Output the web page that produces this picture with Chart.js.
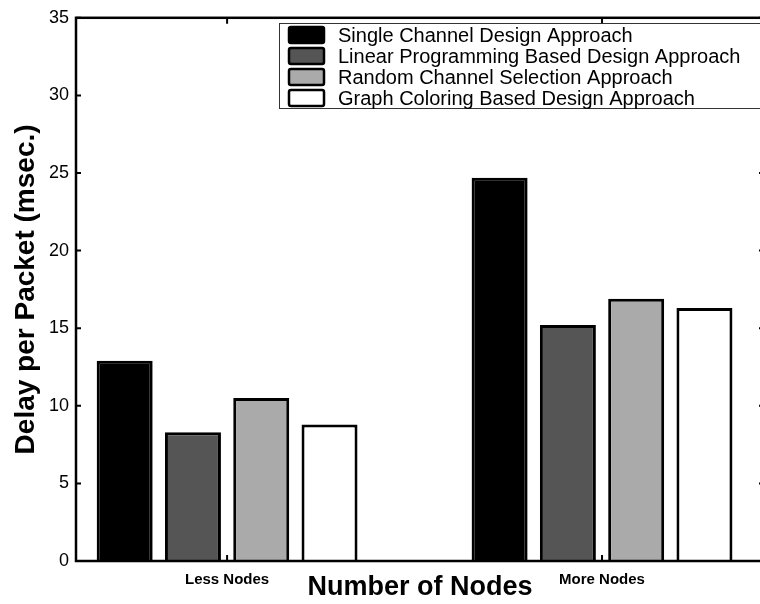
<!DOCTYPE html>
<html>
<head>
<meta charset="utf-8">
<script src="https://cdn.jsdelivr.net/npm/chart.js@4.4.0/dist/chart.umd.min.js"></script>
<style>
  html, body { margin: 0; padding: 0; overflow: hidden; background: #fff; }
  #wrap { width: 760px; height: 604px; overflow: hidden; }
</style>
</head>
<body>
<div id="wrap"><canvas id="chart" width="800" height="604"></canvas></div>
<script>
// chart data
const categories = ['Less Nodes', 'More Nodes'];
const seriesNames = [
    'Single Channel Design Approach',
    'Linear Programming Based Design Approach',
    'Random Channel Selection Approach',
    'Graph Coloring Based Design Approach'
];
const singleChannel = [12.9, 24.7];
const linearProgramming = [8.3, 15.2];
const randomChannel = [10.5, 16.9];
const graphColoring = [8.8, 16.3];
const yTicks = [0, 5, 10, 15, 20, 25, 30, 35];

const FONT = "'Liberation Sans', Arial, sans-serif";
const fills = ['#000000', '#555555', '#aaaaaa', '#ffffff'];

const toPoints = vals => vals.map((v, i) => ({ x: i + 1, y: v }));

// box around the plot, inward ticks and the legend box
const framePlugin = {
    id: 'frame',
    afterDraw(chart) {
        const { ctx, chartArea: a, scales } = chart;
        ctx.save();
        ctx.strokeStyle = '#000';
        ctx.lineWidth = 2.5;
        ctx.strokeRect(a.left, a.top, a.right - a.left, a.bottom - a.top);

        ctx.lineWidth = 2;
        yTicks.forEach(t => {
            const y = scales.y.getPixelForValue(t);
            ctx.beginPath();
            ctx.moveTo(a.left, y); ctx.lineTo(a.left + 5, y);
            ctx.moveTo(a.right, y); ctx.lineTo(a.right - 5, y);
            ctx.stroke();
        });
        categories.forEach((c, i) => {
            const x = scales.x.getPixelForValue(i + 1);
            ctx.beginPath();
            ctx.moveTo(x, a.bottom); ctx.lineTo(x, a.bottom - 6);
            ctx.moveTo(x, a.top); ctx.lineTo(x, a.top + 6);
            ctx.stroke();
        });

        // legend
        const lx = 279, ly = 23, lh = 85;
        ctx.fillStyle = '#fff';
        ctx.fillRect(lx, ly, chart.width - lx, lh);
        ctx.lineWidth = 1;
        ctx.strokeStyle = '#333';
        ctx.strokeRect(lx + 0.5, ly + 0.5, chart.width - lx, lh);
        ctx.font = '20px ' + FONT;
        ctx.textBaseline = 'middle';
        chart.data.datasets.forEach((ds, i) => {
            const cy = 35 + i * 21;
            ctx.fillStyle = ds.backgroundColor;
            ctx.strokeStyle = '#000';
            ctx.lineWidth = 2.5;
            ctx.beginPath();
            ctx.roundRect(289, cy - 8, 35, 16, 2);
            ctx.fill();
            ctx.stroke();
            ctx.fillStyle = '#000';
            ctx.fillText(ds.label, 338, cy + 1);
        });
        ctx.restore();
    }
};

new Chart(document.getElementById('chart'), {
    type: 'bar',
    data: {
        datasets: [
            { label: seriesNames[0], data: toPoints(singleChannel) },
            { label: seriesNames[1], data: toPoints(linearProgramming) },
            { label: seriesNames[2], data: toPoints(randomChannel) },
            { label: seriesNames[3], data: toPoints(graphColoring) }
        ].map((d, i) => ({
            ...d,
            backgroundColor: fills[i],
            borderColor: '#000',
            borderWidth: 3,
            borderSkipped: 'start',
            categoryPercentage: 0.7285,
            barPercentage: 0.82
        }))
    },
    options: {
        responsive: false,
        animation: false,
        layout: { padding: { top: 14, right: 36, left: 0, bottom: 0 } },
        plugins: {
            legend: { display: false },
            tooltip: { enabled: false }
        },
        scales: {
            x: {
                type: 'linear',
                offset: false,
                min: 0.597,
                max: 2.432,
                grid: { display: false, drawTicks: false },
                border: { display: false },
                afterBuildTicks: s => { s.ticks = categories.map((c, i) => ({ value: i + 1 })); },
                afterFit: s => { s.height = 43; },
                ticks: {
                    padding: 10,
                    color: '#000',
                    font: { family: FONT, size: 15, weight: 'bold' },
                    callback: v => categories[v - 1]
                },
                title: {
                    display: true,
                    text: 'Number of Nodes',
                    color: '#000',
                    font: { family: FONT, size: 27, weight: 'bold' },
                    padding: { top: 0, bottom: 0 }
                }
            },
            y: {
                min: 0,
                max: 35,
                grid: { display: false, drawTicks: false },
                border: { display: false },
                afterBuildTicks: s => { s.ticks = yTicks.map(v => ({ value: v })); },
                afterFit: s => { s.width = 76; },
                ticks: {
                    padding: 7,
                    color: '#000',
                    font: { family: FONT, size: 18 }
                },
                title: {
                    display: true,
                    text: 'Delay per Packet (msec.)',
                    color: '#000',
                    font: { family: FONT, size: 28, weight: 'bold' },
                    padding: { top: 9, bottom: 0 }
                }
            }
        }
    },
    plugins: [framePlugin]
});
</script>
</body>
</html>
